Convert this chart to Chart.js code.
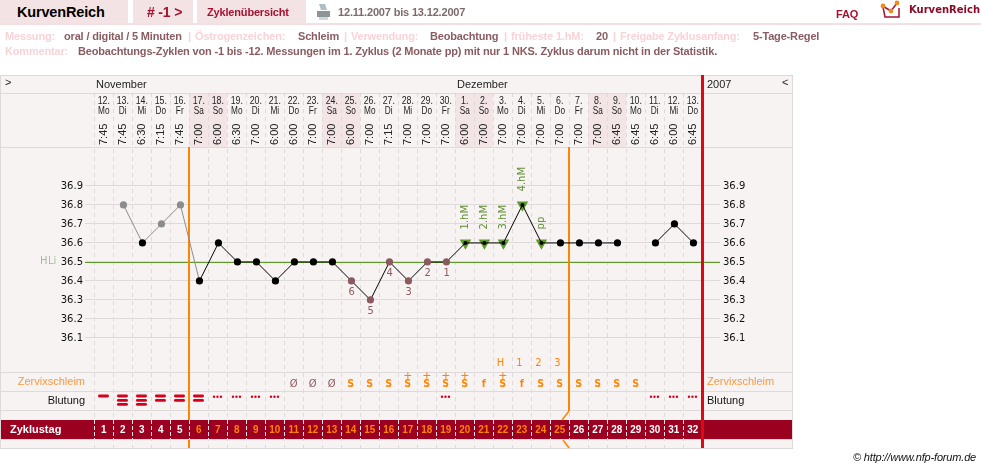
<!DOCTYPE html>
<html lang="de">
<head>
<meta charset="utf-8">
<title>KurvenReich</title>
<script src="https://cdn.jsdelivr.net/npm/chart.js@4/dist/chart.umd.min.js"></script>
<style>
    html, body { margin: 0; background: #fff; overflow: hidden; }
    #page { position: relative; width: 981px; height: 468px; font: bold 11px "Liberation Sans", Arial, sans-serif; }
    #page canvas { position: absolute; left: 0; top: 0; }
    .tab { position: absolute; top: 0; height: 23px; background: #f4e3e5; }
    .rule { position: absolute; left: 0; top: 23px; width: 981px; height: 2px; background: #f4dfe2; }
    .t { position: absolute; white-space: nowrap; line-height: 14px; letter-spacing: -0.17px; }
    .key { color: #f8d3d7; }
    .val { color: #8a5c62; }
    .red { color: #a5122f; }
</style>
</head>
<body>
<div id="page">
    <canvas id="cycle-chart" width="981" height="468"></canvas>

    <div class="tab" style="left:0;width:128px"></div>
    <div class="tab" style="left:133px;width:60px"></div>
    <div class="tab" style="left:197px;width:109px"></div>
    <div class="rule"></div>

    <span class="t" style="left:17px;top:5px;color:#000;font-size:14.5px">KurvenReich</span>
    <span class="t red" style="left:147px;top:5px;font-size:14px">#&nbsp;-1&nbsp;&gt;</span>
    <span class="t red" style="left:207px;top:5px;font-size:11px">Zyklenübersicht</span>
    <svg style="position:absolute;left:316px;top:3px" width="15" height="18" viewBox="0 0 15 18">
        <path d="M3 1h6l2 6H5z" fill="#aebdc6"/>
        <path d="M1 8h13v6H1z" fill="#8d9498"/>
        <path d="M3 14h9v3H3z" fill="#d2d6d8"/>
    </svg>
    <span class="t val" style="left:338px;top:5px;color:#7d6a6d">12.11.2007 bis 13.12.2007</span>
    <span class="t red" style="left:836px;top:7px">FAQ</span>
    <svg style="position:absolute;left:880px;top:0" width="24" height="22" viewBox="0 0 24 22">
        <path d="M2.5 6l8.5 5 6-8M3 7l2 10h14V8" fill="none" stroke="#a5122f" stroke-width="1.5"/>
        <circle cx="3" cy="6" r="2.4" fill="#f08a1c"/>
        <circle cx="11" cy="11" r="2.4" fill="#f08a1c"/>
        <circle cx="17" cy="3" r="2.4" fill="#f08a1c"/>
    </svg>
    <span class="t" style="left:909px;top:3px;color:#8b0b25;letter-spacing:0;font:bold 10px/14px 'DejaVu Sans'">KurvenReich</span>

    <span class="t key" style="left:5px;top:29px">Messung:</span>
    <span class="t val" style="left:64px;top:29px">oral / digital / 5 Minuten</span>
    <span class="t key" style="left:188px;top:29px">|</span>
    <span class="t key" style="left:195px;top:29px">Östrogenzeichen:</span>
    <span class="t val" style="left:298px;top:29px">Schleim</span>
    <span class="t key" style="left:344px;top:29px">|</span>
    <span class="t key" style="left:351px;top:29px">Verwendung:</span>
    <span class="t val" style="left:430px;top:29px">Beobachtung</span>
    <span class="t key" style="left:504px;top:29px">|</span>
    <span class="t key" style="left:511px;top:29px">früheste 1.hM:</span>
    <span class="t val" style="left:596px;top:29px">20</span>
    <span class="t key" style="left:613px;top:29px">|</span>
    <span class="t key" style="left:620px;top:29px">Freigabe Zyklusanfang:</span>
    <span class="t val" style="left:753px;top:29px">5-Tage-Regel</span>
    <span class="t key" style="left:5px;top:44px">Kommentar:</span>
    <span class="t val" style="left:78px;top:44px">Beobachtungs-Zyklen von -1 bis -12. Messungen im 1. Zyklus (2 Monate pp) mit nur 1 NKS. Zyklus darum nicht in der Statistik.</span>

    <span class="t" style="left:853px;top:450px;color:#111;font:italic 11px/14px 'Liberation Sans'">© http://www.nfp-forum.de</span>
</div>

<script>
// Zyklusdaten, ein Eintrag pro Tag
const dayNumbers = ['12.','13.','14.','15.','16.','17.','18.','19.','20.','21.','22.','23.','24.','25.','26.','27.','28.','29.','30.','1.','2.','3.','4.','5.','6.','7.','8.','9.','10.','11.','12.','13.'];
const weekdays = ['Mo','Di','Mi','Do','Fr','Sa','So','Mo','Di','Mi','Do','Fr','Sa','So','Mo','Di','Mi','Do','Fr','Sa','So','Mo','Di','Mi','Do','Fr','Sa','So','Mo','Di','Mi','Do'];
const times = ['7:45','7:45','6:30','7:15','7:45','7:00','6:00','6:30','7:00','6:00','6:00','7:00','7:00','6:00','7:00','7:15','7:00','7:00','7:00','6:00','7:00','7:00','7:00','7:00','7:00','7:00','7:00','6:45','6:45','6:45','6:00','6:45'];
const temperatures = [null,36.8,36.6,36.7,36.8,36.4,36.6,36.5,36.5,36.4,36.5,36.5,36.5,36.4,36.3,36.5,36.4,36.5,36.5,36.6,36.6,36.6,36.8,36.6,36.6,36.6,36.6,36.6,null,36.6,36.7,36.6];
const cycleDays = ['1','2','3','4','5','6','7','8','9','10','11','12','13','14','15','16','17','18','19','20','21','22','23','24','25','26','27','28','29','30','31','32'];
const mucus = ['','','','','','','','','','','Ø','Ø','Ø','S','S','S','S+','S+','S+','S+','f','S+','f','S','S','S','S','S','S','','',''];
const bleeding = [1,3,3,2,2,2,-1,-1,-1,-1,0,0,0,0,0,0,0,0,-1,0,0,0,0,0,0,0,0,0,0,-1,-1,-1];

// Achsen und Markierungen
const tempTicks = [36.1,36.2,36.3,36.4,36.5,36.6,36.7,36.8,36.9];
const coverLine = 36.5;
const greyDays = [1,3,4];
const weekendDays = [5,6,12,13,19,20,26,27];
const lowDays = [13,14,15,16,17,18];
const lowTexts = ['6','5','4','3','2','1'];
const riseDays = [19,20,21,22,23];
const riseTexts = ['1.hM','2.hM','3.hM','4.hM','pp'];
const peakDays = [21,22,23,24];
const peakTexts = ['H','1','2','3'];
const fertileStart = 5;
const fertileEnd = 25;
const months = [{ day: 0, name: 'November' }, { day: 19, name: 'Dezember' }];

const COLORS = {
    panel: '#f8f3f3',
    line: '#dedada',
    weekend: '#f3e4e6',
    band: '#9b0021',
    orange: '#ff8400',
    red: '#dd0a14',
    green: '#5e9a2a',
    greenText: '#5f8f32',
    brown: '#8a5a5e',
    grey: '#8c8c8c',
    text: '#222'
};
const SANS = '"Liberation Sans", Arial, sans-serif';
const DEJAVU = '"DejaVu Sans", sans-serif';

// Text mit optional gestauchter Breite, die Tagesspalten sind sehr schmal
function drawText(ctx, text, x, y, font, color, align = 'center', squeeze = 1) {
    ctx.save();
    ctx.translate(x, y);
    ctx.scale(squeeze, 1);
    ctx.font = font;
    ctx.fillStyle = color;
    ctx.textAlign = align;
    ctx.textBaseline = 'middle';
    ctx.fillText(text, 0, 0);
    ctx.restore();
}

function drawUpright(ctx, text, x, y, font, color) {
    ctx.save();
    ctx.translate(x, y);
    ctx.rotate(-Math.PI / 2);
    ctx.font = font;
    ctx.fillStyle = color;
    ctx.textAlign = 'left';
    ctx.textBaseline = 'middle';
    ctx.fillText(text, 0, 0);
    ctx.restore();
}

function hLine(ctx, y, x0 = 1, x1 = 792) {
    ctx.fillStyle = COLORS.line;
    ctx.fillRect(x0, y, x1 - x0, 1);
}

// Hintergrund, Kopfzeilen und Zeilentrenner
const panelPlugin = {
    id: 'panel',
    beforeDraw(chart) {
        const ctx = chart.ctx;
        const x = chart.scales.x;

        ctx.fillStyle = COLORS.panel;
        ctx.fillRect(0, 75, 793, 374);
        ctx.fillStyle = COLORS.line;
        ctx.fillRect(0, 75, 1, 374);
        ctx.fillRect(792, 75, 1, 374);
        hLine(ctx, 75);
        [93, 147, 372, 391, 410, 439, 448].forEach(y => hLine(ctx, y));

        ctx.fillStyle = COLORS.weekend;
        weekendDays.forEach(i => {
            ctx.fillRect(Math.floor(x.getPixelForValue(i) - 9.5), 94, 19, 53);
        });
    },
    beforeDatasetsDraw(chart) {
        const ctx = chart.ctx;
        const { x, y } = chart.scales;

        // HLi-Linie reicht über beide Achsen hinaus
        ctx.fillStyle = COLORS.green;
        ctx.fillRect(85, Math.round(y.getPixelForValue(coverLine)), 635, 1);
        drawText(ctx, 'H', 40, 261, `10px ${DEJAVU}`, '#a9b5a2', 'left');
        drawText(ctx, 'Li', 48, 261, `10px ${DEJAVU}`, '#a8c68e', 'left');

        // Beginn und Ende der fruchtbaren Zeit
        const start = Math.floor(x.getPixelForValue(fertileStart) - 9.5) - 1;
        const end = Math.floor(x.getPixelForValue(fertileEnd) - 9.5) - 1;
        ctx.fillStyle = COLORS.orange;
        ctx.fillRect(start, 147, 2, 273);
        ctx.fillRect(start, 440, 2, 8);
        ctx.fillRect(end, 147, 2, 264);
    },
    afterDatasetsDraw(chart) {
        const ctx = chart.ctx;
        const { x, y } = chart.scales;
        const center = i => x.getPixelForValue(i);

        months.forEach(m => {
            drawText(ctx, m.name, Math.floor(center(m.day) - 9.5) + 2, 85, `11px ${SANS}`, COLORS.text, 'left');
        });
        drawText(ctx, '2007', 707, 85, `11px ${SANS}`, COLORS.text, 'left');
        drawText(ctx, '>', 5, 83, `11px ${SANS}`, COLORS.text, 'left');
        drawText(ctx, '<', 782, 83, `11px ${SANS}`, COLORS.text, 'left');

        dayNumbers.forEach((d, i) => {
            drawText(ctx, d, center(i) - 0.7, 101, `11px ${SANS}`, COLORS.text, 'center', 0.8);
            drawText(ctx, weekdays[i], center(i) - 0.7, 111, `11px ${SANS}`, COLORS.text, 'center', 0.75);
            drawUpright(ctx, times[i], center(i) - 0.7, 145, `11px ${SANS}`, COLORS.text);
        });

        lowDays.forEach((d, k) => {
            drawText(ctx, lowTexts[k], center(d) + 0.3, y.getPixelForValue(temperatures[d]) + 11.5, `11px ${DEJAVU}`, COLORS.brown, 'center', 0.9);
        });
        riseDays.forEach((d, k) => {
            drawUpright(ctx, riseTexts[k], center(d) + 0.3, y.getPixelForValue(temperatures[d]) - 13.5, `10px ${DEJAVU}`, COLORS.greenText);
        });
        peakDays.forEach((d, k) => {
            drawText(ctx, peakTexts[k], center(d) - 3, 363, `11px ${DEJAVU}`, COLORS.orange, 'center', 0.9);
        });

        drawText(ctx, 'Zervixschleim', 85, 382, `11px ${SANS}`, '#f8993c', 'right');
        drawText(ctx, 'Zervixschleim', 707, 382, `11px ${SANS}`, '#f8993c', 'left');
        drawText(ctx, 'Blutung', 85, 401, `11px ${SANS}`, '#111', 'right');
        drawText(ctx, 'Blutung', 707, 401, `11px ${SANS}`, '#111', 'left');

        mucus.forEach((m, i) => {
            if (!m) return;
            const isDry = m === 'Ø';
            const font = isDry ? `11px ${DEJAVU}` : `bold 10.5px ${DEJAVU}`;
            drawText(ctx, m[0], center(i) - 0.7, 384, font, isDry ? COLORS.brown : COLORS.orange, 'center', 0.9);
            if (m.endsWith('+')) {
                drawText(ctx, '+', center(i) - 0.7, 376, `11px ${DEJAVU}`, COLORS.orange);
            }
        });

        // Blutung: Balken je nach Stärke, -1 = Schmierblutung
        ctx.fillStyle = '#d6001c';
        bleeding.forEach((b, i) => {
            const cx = center(i) - 1;
            if (b === -1) {
                [-3.5, 0, 3.5].forEach(dx => {
                    ctx.beginPath();
                    ctx.arc(cx + dx, 396.7, 1.2, 0, Math.PI * 2);
                    ctx.fill();
                });
            }
            [396, 400.4, 404.4].slice(0, Math.max(b, 0)).forEach(barY => {
                ctx.beginPath();
                ctx.roundRect(cx - 5.5, barY - 1.4, 11, 2.8, 1.4);
                ctx.fill();
            });
        });

        // Zyklustag-Leiste
        ctx.fillStyle = COLORS.band;
        ctx.fillRect(1, 420, 791, 19);
        drawText(ctx, 'Zyklustag', 10, 430, `bold 11px ${SANS}`, '#fff', 'left');
        ctx.save();
        ctx.strokeStyle = '#f3e6e8';
        ctx.setLineDash([4, 2]);
        for (let i = 0; i < cycleDays.length; i++) {
            const edge = Math.floor(center(i) - 9.5) + 0.5;
            ctx.beginPath();
            ctx.moveTo(edge, 420);
            ctx.lineTo(edge, 439);
            ctx.stroke();
        }
        ctx.restore();
        cycleDays.forEach((d, i) => {
            const color = i >= fertileStart && i < fertileEnd ? COLORS.orange : '#fff';
            drawText(ctx, d, center(i) - 0.7, 430, `bold 11px ${SANS}`, color, 'center', 0.9);
        });

        // Knick der Ende-Markierung um die Leiste herum
        const end = Math.floor(center(fertileEnd) - 9.5);
        ctx.save();
        ctx.strokeStyle = COLORS.orange;
        ctx.lineWidth = 1.5;
        ctx.beginPath();
        ctx.moveTo(end, 411);
        ctx.lineTo(end - 7, 420);
        ctx.moveTo(end - 6, 440);
        ctx.lineTo(end, 448);
        ctx.stroke();
        ctx.restore();

        // Zyklusende
        ctx.fillStyle = COLORS.red;
        ctx.fillRect(701, 75, 3, 373);
    }
};

function initChart() {
    const yAxis = (position, tickLength, padding, width) => ({
        position,
        min: 35.52,
        max: 37.39,
        bounds: 'data',
        afterBuildTicks: scale => { scale.ticks = tempTicks.map(value => ({ value })); },
        afterFit: scale => { scale.width = width; },
        border: { display: false },
        grid: {
            color: COLORS.line,
            tickColor: COLORS.line,
            tickLength,
            drawOnChartArea: position === 'left'
        },
        ticks: {
            autoSkip: false,
            padding,
            color: '#111',
            font: { family: 'DejaVu Sans', size: 10 },
            callback: value => value.toFixed(1)
        }
    });

    new Chart(document.getElementById('cycle-chart'), {
        type: 'line',
        data: {
            labels: dayNumbers,
            datasets: [{
                label: 'Temperatur',
                data: temperatures,
                order: 1,
                spanGaps: false,
                tension: 0,
                borderWidth: 1,
                borderColor: '#000',
                segment: {
                    borderColor: ctx => ctx.p0DataIndex < fertileStart ? COLORS.grey : '#000'
                },
                pointBorderWidth: 0,
                pointRadius: ctx => riseDays.includes(ctx.dataIndex) ? 2 : 3.6,
                pointBackgroundColor: ctx => {
                    if (greyDays.includes(ctx.dataIndex)) return COLORS.grey;
                    if (lowDays.includes(ctx.dataIndex)) return COLORS.brown;
                    return '#000';
                }
            }, {
                label: 'Hochlage',
                data: temperatures.map((t, i) => riseDays.includes(i) ? t : null),
                order: 2,
                showLine: false,
                pointStyle: 'triangle',
                pointRotation: 180,
                pointRadius: 6.7,
                pointBorderWidth: 0,
                pointBackgroundColor: COLORS.green
            }]
        },
        options: {
            responsive: false,
            animation: false,
            events: [],
            layout: { padding: { bottom: 19.85 } },
            plugins: { legend: { display: false }, tooltip: { enabled: false } },
            scales: {
                x: {
                    type: 'category',
                    position: 'top',
                    offset: true,
                    afterFit: scale => { scale.height = 92.85; },
                    ticks: { display: false },
                    border: { display: false, dash: [4, 4] },
                    grid: { offset: true, color: COLORS.line, drawTicks: false }
                },
                y: yAxis('left', 9.95, 2, 94.95),
                y2: yAxis('right', 17.05, 3, 278.05)
            }
        },
        plugins: [panelPlugin]
    });
}

document.addEventListener('DOMContentLoaded', initChart);
</script>
</body>
</html>
